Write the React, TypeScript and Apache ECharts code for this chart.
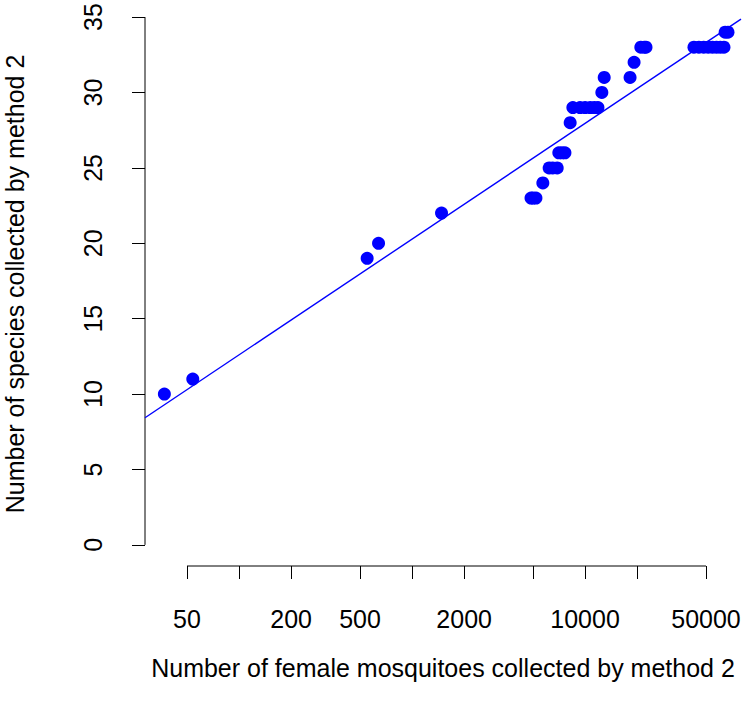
import React, { useEffect, useRef } from "react";
import * as echarts from "echarts";

// Data
const mosquitoes = [
  37, 54, 550, 640, 1480,
  4870, 5000, 5200, 5700,
  6200, 6500, 6900, 7050, 7350, 7650,
  8200, 8500, 9350, 10000, 10700, 11300, 11870,
  12500, 12900, 18200, 19200, 21000, 22000, 22500,
  42600, 45500, 48500, 51500, 54500, 57500, 60500, 63500,
  64500, 67000,
];
const species = [
  10, 11, 19, 20, 22,
  23, 23, 23, 24,
  25, 25, 25, 26, 26, 26,
  28, 29, 29, 29, 29, 29, 29,
  30, 31, 31, 32, 33, 33, 33,
  33, 33, 33, 33, 33, 33, 33, 33,
  34, 34,
];
const xTickValues = [50, 100, 200, 500, 1000, 2000, 5000, 10000, 20000, 50000];
const xLabelValues = [50, 200, 500, 2000, 10000, 50000];
const yTickValues = [0, 5, 10, 15, 20, 25, 30, 35];
// fitted line: species = INTERCEPT + SLOPE * log10(mosquitoes)
const INTERCEPT = -2.743;
const SLOPE = 7.673;

const X_MIN = 1.4562;
const X_MAX = 4.9013;
const Y_MIN = -1.4;
const Y_MAX = 36;

const FONT = "'Liberation Sans', Arial, Helvetica, sans-serif";
const FS = 25;

export default function App() {
  const ref = useRef<HTMLDivElement>(null);
  useEffect(() => {
    if (!ref.current) return;
    const chart = echarts.init(ref.current, null, { renderer: "svg" });
    const lg = (v: number) => Math.log10(v);
    const points = mosquitoes.map((m, i) => [lg(m), species[i]]);
    const xAxisLine = [
      [lg(xTickValues[0]), Y_MIN],
      [lg(xTickValues[xTickValues.length - 1]), Y_MIN],
    ];
    const yAxisLine = [
      [X_MIN, yTickValues[0]],
      [X_MIN, yTickValues[yTickValues.length - 1]],
    ];
    const fit = [
      [X_MIN, INTERCEPT + SLOPE * X_MIN],
      [X_MAX, INTERCEPT + SLOPE * X_MAX],
    ];
    chart.setOption({
      animation: false,
      backgroundColor: "#ffffff",
      textStyle: { fontFamily: FONT },
      grid: {
        left: 145,
        right: 10,
        top: 2,
        bottom: 151,
        containLabel: false,
        outerBoundsMode: "none",
      },
      xAxis: {
        type: "value",
        min: X_MIN,
        max: X_MAX,
        name: "Number of female mosquitoes collected by method 2",
        nameLocation: "middle",
        nameGap: 89,
        nameTextStyle: { fontSize: FS, color: "#000", fontFamily: FONT },
        axisLine: { show: false, onZero: false },
        splitLine: { show: false },
        axisTick: {
          show: true,
          length: 13,
          customValues: xTickValues.map(lg),
          lineStyle: { color: "#000", width: 1 },
        },
        axisLabel: {
          customValues: xLabelValues.map(lg),
          formatter: (v: number) => String(Math.round(Math.pow(10, v))),
          fontSize: FS,
          color: "#000",
          fontFamily: FONT,
          margin: 40,
          hideOverlap: false,
        },
      },
      yAxis: {
        type: "value",
        min: Y_MIN,
        max: Y_MAX,
        name: "Number of species collected by method 2",
        nameLocation: "middle",
        nameGap: 118,
        nameRotate: 90,
        nameTextStyle: { fontSize: FS, color: "#000", fontFamily: FONT },
        axisLine: { show: false, onZero: false },
        splitLine: { show: false },
        axisTick: {
          show: true,
          length: 13,
          customValues: yTickValues,
          lineStyle: { color: "#000", width: 1 },
        },
        axisLabel: {
          customValues: yTickValues,
          rotate: 90,
          fontSize: FS,
          color: "#000",
          fontFamily: FONT,
          margin: 40,
        },
      },
      series: [
        {
          type: "line",
          data: xAxisLine,
          symbol: "none",
          clip: false,
          silent: true,
          lineStyle: { color: "#000", width: 1 },
        },
        {
          type: "line",
          data: yAxisLine,
          symbol: "none",
          clip: false,
          silent: true,
          lineStyle: { color: "#000", width: 1 },
        },
        {
          type: "line",
          data: fit,
          symbol: "none",
          silent: true,
          lineStyle: { color: "#0000ff", width: 1.4 },
        },
        {
          type: "scatter",
          data: points,
          symbol: "circle",
          symbolSize: 13,
          itemStyle: { color: "#0000ff", opacity: 1 },
        },
      ],
    });
    return () => chart.dispose();
  }, []);
  return (
    <div
      ref={ref}
      style={{ position: "fixed", left: 0, top: 0, width: 751, height: 717, background: "#fff" }}
    />
  );
}
